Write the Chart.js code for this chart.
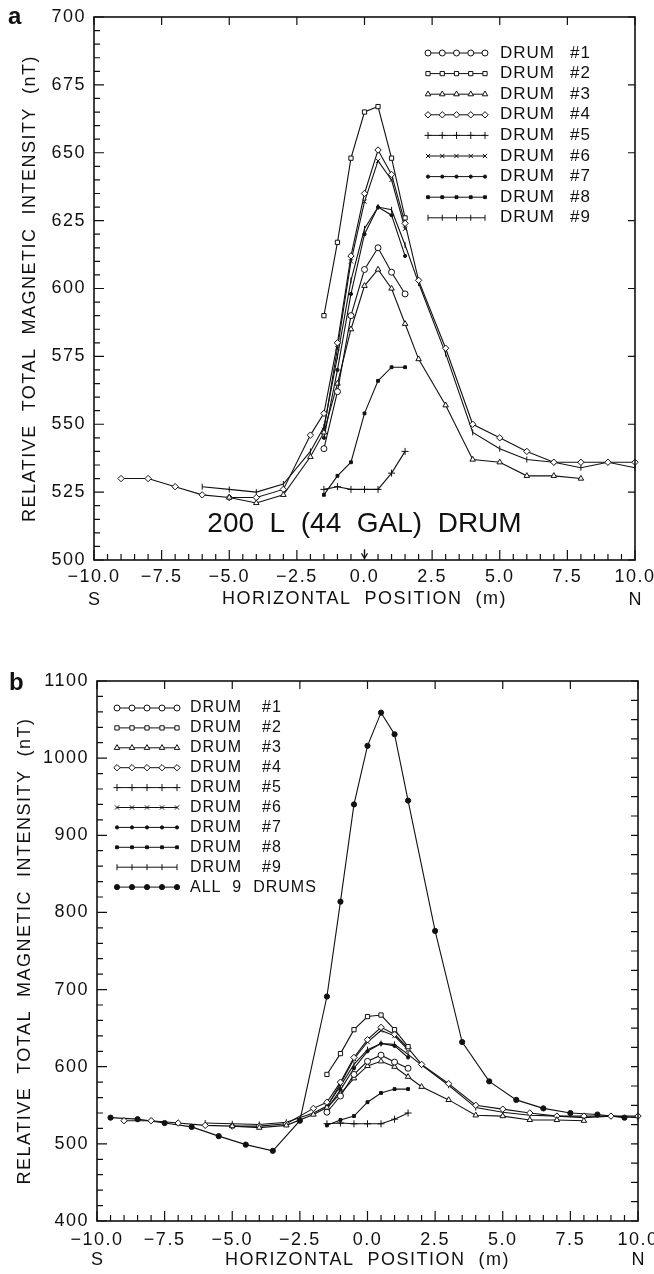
<!DOCTYPE html>
<html>
<head>
<meta charset="utf-8">
<script src="https://cdn.jsdelivr.net/npm/chart.js@4.4.1/dist/chart.umd.min.js"></script>
<style>
  body { margin: 0; background: #fff; width: 654px; height: 1274px; position: relative; overflow: hidden; }
  .box { position: absolute; left: 0; width: 654px; }
  #boxA { top: 0; height: 610px; }
  #boxB { top: 610px; height: 664px; }
</style>
</head>
<body>
<div class="box" id="boxA"><canvas id="chartA"></canvas></div>
<div class="box" id="boxB"><canvas id="chartB"></canvas></div>
<script>
// horizontal positions (m)
const xShort = [-1.5, -1, -0.5, 0, 0.5, 1, 1.5];
const xDrum3 = [-5, -4, -3, -2, -1.5, -1, -0.5, 0, 0.5, 1, 1.5, 2, 3, 4, 5, 6, 7, 8];
const xDrum4 = [-9, -8, -7, -6, -5, -4, -3, -2, -1.5, -1, -0.5, 0, 0.5, 1, 1.5, 2, 3, 4, 5, 6, 7, 8, 9, 10];
const xDrum9 = [-6, -5, -4, -3, -2, -1.5, -1, -0.5, 0, 0.5, 1, 1.5, 2, 3, 4, 5, 6, 7, 8, 9, 10];
const xAll = [-9.5, -8.5, -7.5, -6.5, -5.5, -4.5, -3.5, -2.5, -1.5, -1, -0.5, 0, 0.5, 1, 1.5, 2.5, 3.5, 4.5, 5.5, 6.5, 7.5, 8.5, 9.5];

// relative total magnetic intensity (nT)
const drum1 = [541, 562, 590, 607, 615, 606, 598];
const drum2 = [590, 617, 648, 665, 667, 648, 626];
const drum3 = [523, 521, 524, 538, 547, 565, 585, 601, 607, 600, 587, 574, 557, 537, 536, 531, 531, 530];
const drum4 = [530, 530, 527, 524, 523, 523, 526, 546, 554, 580, 612, 635, 651, 642, 624, 603, 578, 550, 545, 540, 536, 536, 536, 536];
const drum5 = [526, 527, 526, 526, 526, 532, 540];
const drum6 = [548, 578, 610, 632, 647, 640, 622];
const drum7 = [545, 570, 598, 620, 630, 627, 612];
const drum8 = [524, 531, 536, 554, 566, 571, 571];
const drum9 = [527, 526, 525, 528, 540, 549, 575, 603, 622, 630, 629, 616, 602, 576, 547, 541, 537, 536, 534, 536, 534];
const allDrums = [534, 532, 527, 522, 510, 499, 491, 530, 691, 814, 940, 1016, 1059, 1031, 945, 776, 632, 581, 557, 546, 540, 538, 534];

const xTicks = [-10, -7.5, -5, -2.5, 0, 2.5, 5, 7.5, 10];
const ink = '#111';
const FONT = "'Liberation Sans', Arial, sans-serif";

Chart.defaults.font.family = FONT;
Chart.defaults.color = ink;

function series(label, xs, ys, style) {
  return {
    label,
    data: xs.map((x, i) => ({ x, y: ys[i] })),
    borderColor: ink,
    borderWidth: 1.1,
    pointBorderColor: ink,
    pointBorderWidth: 1,
    pointBackgroundColor: style.filled ? ink : '#fff',
    pointStyle: style.shape,
    pointRadius: style.r,
    pointRotation: style.rot || 0,
    tension: 0,
    clip: 8,
  };
}

function drumSets() {
  return [
    series('DRUM #1', xShort, drum1, { shape: 'circle', r: 3 }),
    series('DRUM #2', xShort, drum2, { shape: 'rect', r: 3 }),
    series('DRUM #3', xDrum3, drum3, { shape: 'triangle', r: 3.2 }),
    series('DRUM #4', xDrum4, drum4, { shape: 'rectRot', r: 3.2 }),
    series('DRUM #5', xShort, drum5, { shape: 'cross', r: 3.5 }),
    series('DRUM #6', xShort, drum6, { shape: 'crossRot', r: 3 }),
    series('DRUM #7', xShort, drum7, { shape: 'circle', r: 1.6, filled: true }),
    series('DRUM #8', xShort, drum8, { shape: 'rect', r: 2, filled: true }),
    series('DRUM #9', xDrum9, drum9, { shape: 'line', r: 3, rot: 90 }),
  ];
}

// box round the plot with inward tick marks
const frame = {
  id: 'frame',
  beforeDraw(chart) { chart.ctx.letterSpacing = '1.5px'; },
  afterDraw(chart, args, o) {
    const { ctx, chartArea: a, scales: { x, y } } = chart;
    const isOn = (v, step) => Math.abs(v / step - Math.round(v / step)) < 1e-6;
    ctx.save();
    ctx.strokeStyle = ink;
    ctx.lineWidth = 1.6;
    ctx.strokeRect(a.left, a.top, a.right - a.left, a.bottom - a.top);
    ctx.lineWidth = 1.2;
    ctx.beginPath();
    for (let v = x.min; v <= x.max + 1e-9; v += o.xMinor) {
      const px = x.getPixelForValue(v);
      const major = isOn(v, o.xMajor);
      ctx.moveTo(px, a.bottom);
      ctx.lineTo(px, a.bottom - (major ? 10 : 6));
      if (major) { ctx.moveTo(px, a.top); ctx.lineTo(px, a.top + 8); }
    }
    for (let v = y.min; v <= y.max + 1e-9; v += o.yMinor) {
      const py = y.getPixelForValue(v);
      ctx.moveTo(a.left, py);
      ctx.lineTo(a.left + (isOn(v, o.yMajor) ? 10 : 6), py);
    }
    for (let v = y.min; v <= y.max + 1e-9; v += o.yRight) {
      const py = y.getPixelForValue(v);
      ctx.moveTo(a.right, py);
      ctx.lineTo(a.right - 7, py);
    }
    ctx.stroke();

    // S / N under the ends of the x axis, panel letter
    ctx.fillStyle = ink;
    ctx.letterSpacing = '0px';
    ctx.font = '18px ' + FONT;
    ctx.textAlign = 'center';
    ctx.textBaseline = 'middle';
    ctx.fillText('S', x.getPixelForValue(x.min), o.sy);
    ctx.fillText('N', x.getPixelForValue(x.max), o.sy);
    ctx.font = 'bold 24px ' + FONT;
    ctx.textAlign = 'left';
    ctx.textBaseline = 'alphabetic';
    ctx.fillText(o.letter, o.letterX, o.letterY);
    ctx.restore();
  }
};

// hand-drawn key, read from the datasets
const drumKey = {
  id: 'drumKey',
  afterDraw(chart, args, o) {
    const ctx = chart.ctx;
    ctx.save();
    ctx.letterSpacing = '1px';
    ctx.font = o.size + 'px ' + FONT;
    ctx.textBaseline = 'middle';
    ctx.strokeStyle = ink;
    chart.data.datasets.forEach((ds, i) => {
      const yy = o.y + i * o.dy;
      ctx.lineWidth = 1;
      ctx.beginPath();
      ctx.moveTo(o.x, yy);
      ctx.lineTo(o.x + o.w, yy);
      ctx.stroke();
      for (let k = 0; k < 5; k++) {
        ctx.fillStyle = ds.pointBackgroundColor;
        ctx.lineWidth = 1;
        Chart.helpers.drawPoint(ctx, {
          pointStyle: ds.pointStyle, radius: ds.pointRadius,
          rotation: ds.pointRotation, borderWidth: 1
        }, o.x + k * o.w / 4, yy);
      }
      ctx.fillStyle = ink;
      const m = ds.label.match(/^DRUM (#\d)$/);
      if (m) {
        ctx.fillText('DRUM', o.textX, yy);
        ctx.fillText(m[1], o.hashX, yy);
      } else {
        ctx.fillText(ds.label.replace(/ /g, '  '), o.textX, yy);
      }
    });
    ctx.restore();
  }
};

// "200 L (44 GAL) DRUM" note and arrow at x = 0
const drumNote = {
  id: 'drumNote',
  afterDraw(chart, args, o) {
    if (!o.text) return;
    const { ctx, scales: { x, y } } = chart;
    ctx.save();
    ctx.fillStyle = ink;
    ctx.strokeStyle = ink;
    ctx.letterSpacing = '0px';
    ctx.font = '28px ' + FONT;
    ctx.textAlign = 'center';
    ctx.textBaseline = 'middle';
    ctx.fillText(o.text, x.getPixelForValue(o.at[0]), y.getPixelForValue(o.at[1]));
    const ax = x.getPixelForValue(0);
    const y0 = y.getPixelForValue(o.arrow[0]);
    const y1 = y.getPixelForValue(o.arrow[1]);
    ctx.lineWidth = 1.2;
    ctx.beginPath();
    ctx.moveTo(ax, y0); ctx.lineTo(ax, y1);
    ctx.moveTo(ax - 3, y1 - 5); ctx.lineTo(ax, y1); ctx.lineTo(ax + 3, y1 - 5);
    ctx.stroke();
    ctx.restore();
  }
};

function makeChart(id, sets, cfg) {
  return new Chart(document.getElementById(id), {
    type: 'line',
    data: { datasets: sets },
    plugins: [frame, drumKey, drumNote],
    options: {
      responsive: true,
      maintainAspectRatio: false,
      animation: false,
      layout: { padding: { top: cfg.top, right: cfg.right, left: 0, bottom: 0 } },
      plugins: {
        legend: { display: false },
        tooltip: { enabled: false },
        frame: cfg.frame,
        drumKey: cfg.key,
        drumNote: cfg.note || {},
      },
      scales: {
        x: {
          type: 'linear',
          min: -10,
          max: 10,
          afterBuildTicks: (s) => { s.ticks = xTicks.map(v => ({ value: v })); },
          ticks: {
            font: { size: 18 },
            color: ink,
            padding: cfg.xPad,
            maxRotation: 0,
            autoSkip: false,
            callback: (v) => (v < 0 ? '\u2212' : '') + Math.abs(v).toFixed(1),
          },
          grid: { display: false, drawTicks: false },
          border: { display: false },
          title: {
            display: true,
            text: 'HORIZONTAL  POSITION  (m)',
            font: { size: 18 },
            color: ink,
            padding: { top: 0, bottom: cfg.xTitlePad },
          },
          afterFit: (s) => { s.height = cfg.xHeight; s.paddingLeft = 0; s.paddingRight = 0; },
        },
        y: {
          min: cfg.yMin,
          max: cfg.yMax,
          ticks: {
            stepSize: cfg.yStep, font: { size: 18 }, color: ink, padding: 8,
            callback: (v) => String(v),
          },
          grid: { display: false, drawTicks: false },
          border: { display: false },
          title: {
            display: true,
            text: 'RELATIVE  TOTAL  MAGNETIC  INTENSITY  (nT)',
            font: { size: 18 },
            color: ink,
            padding: { top: cfg.yTitlePad, bottom: 0 },
          },
          afterFit: (s) => { s.width = cfg.yWidth; s.paddingTop = 0; s.paddingBottom = 0; },
        },
      },
    },
  });
}

makeChart('chartA', drumSets(), {
  top: 17, right: 19, xHeight: 50, yWidth: 94, xPad: 6, xTitlePad: 0, yTitlePad: 19,
  yMin: 500, yMax: 700, yStep: 25,
  frame: { xMinor: 0.5, xMajor: 2.5, yMinor: 5, yMajor: 25, yRight: 25, sy: 600, letter: 'a', letterX: 8, letterY: 24 },
  key: { x: 428, y: 53, dy: 20.6, w: 57, size: 17, textX: 500, hashX: 570 },
  note: { text: '200  L  (44  GAL)  DRUM', at: [0, 513], arrow: [504, 500.6] },
});

makeChart('chartB', drumSets().concat([
  series('ALL 9 DRUMS', xAll, allDrums, { shape: 'circle', r: 2.6, filled: true }),
]), {
  top: 71, right: 16, xHeight: 53, yWidth: 97, xPad: 8, xTitlePad: 3, yTitlePad: 14,
  yMin: 400, yMax: 1100, yStep: 100,
  frame: { xMinor: 0.5, xMajor: 2.5, yMinor: 20, yMajor: 100, yRight: 25, sy: 650, letter: 'b', letterX: 9, letterY: 80 },
  key: { x: 117, y: 98, dy: 19.9, w: 60, size: 16, textX: 190, hashX: 262 },
});
</script>
</body>
</html>
